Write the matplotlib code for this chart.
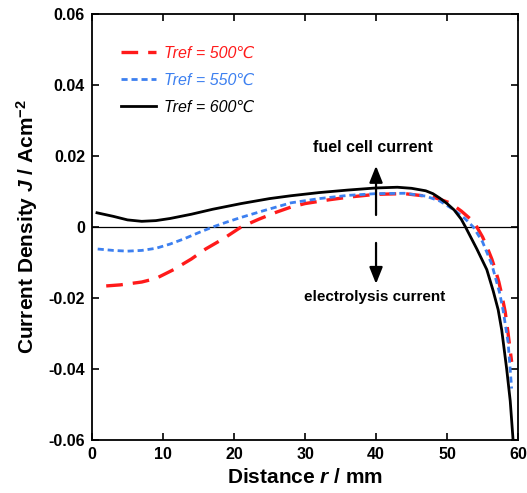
import matplotlib
matplotlib.use("Agg")
import matplotlib.pyplot as plt

plt.rcParams["font.family"] = ["Liberation Sans", "DejaVu Sans"]
plt.rcParams["mathtext.fontset"] = "custom"
plt.rcParams["mathtext.rm"] = "Liberation Sans:bold"
plt.rcParams["mathtext.it"] = "Liberation Sans:italic:bold"
plt.rcParams["mathtext.bf"] = "Liberation Sans:bold"

# Tref = 500 C
r_500 = [2, 4, 7, 9, 11.5, 14, 16, 18.5, 21, 23.5, 26, 28, 30, 33.5, 36.5, 40, 44,
         47.9, 49, 50.4, 52, 53.5, 54.2, 55, 55.6, 56.3, 56.8, 57.3, 57.7, 58.2,
         58.6, 59.1]
j_500 = [-0.0166, -0.0163, -0.0155, -0.0145, -0.012, -0.009, -0.0062, -0.0033, 0.0,
         0.0022, 0.0042, 0.0056, 0.0066, 0.0077, 0.0085, 0.0092, 0.0094, 0.0085,
         0.0078, 0.0068, 0.0045, 0.0019, 0.0, -0.0028, -0.0055, -0.009, -0.012,
         -0.0155, -0.019, -0.024, -0.030, -0.038]

# Tref = 550 C
r_550 = [0.8, 3, 5, 7, 9, 11, 13, 15, 17, 19, 21, 24, 28, 32, 36, 40, 44, 47, 49,
         51, 52.5, 53.7, 55, 56.3, 57.4, 57.9, 58.6, 59.1]
j_550 = [-0.0062, -0.0066, -0.0068, -0.0066, -0.006, -0.0048, -0.0033, -0.0016, 0.0,
         0.0014, 0.0027, 0.0045, 0.0068, 0.0080, 0.0089, 0.0094, 0.0095, 0.0087,
         0.0073, 0.0048, 0.0024, 0.0, -0.0042, -0.0105, -0.0185, -0.0235, -0.0325,
         -0.0455]

# Tref = 600 C
r_600 = [0.7, 3, 5, 7, 9, 11, 14, 17, 21, 25, 28, 32, 36, 40, 43, 45, 47, 48, 49,
         50, 51, 52, 52.6, 54.2, 55.6, 56.5, 57.2, 57.7, 58.4, 58.9, 59.3]
j_600 = [0.0040, 0.0030, 0.0020, 0.0016, 0.0018, 0.0024, 0.0036, 0.0050, 0.0066,
         0.0080, 0.0088, 0.0097, 0.0104, 0.0110, 0.0112, 0.0109, 0.0102, 0.0094,
         0.0081, 0.0066, 0.0048, 0.0022, 0.0, -0.0062, -0.012, -0.018, -0.0233,
         -0.029, -0.040, -0.049, -0.06]

labels = ["Tref = 500\u2103", "Tref = 550\u2103", "Tref = 600\u2103"]
x_ticks = [0, 10, 20, 30, 40, 50, 60]
y_ticks = [-0.06, -0.04, -0.02, 0, 0.02, 0.04, 0.06]
y_tick_labels = ["-0.06", "-0.04", "-0.02", "0", "0.02", "0.04", "0.06"]

fig = plt.figure(figsize=(5.27, 4.93), dpi=100)
ax = fig.add_axes([0.1746, 0.1075, 0.8084, 0.8641])

ax.axhline(0, color="black", lw=0.9)
ax.plot(r_500, j_500, color="#ff1a1a", lw=2.4, dashes=(5, 3), label=labels[0])
ax.plot(r_550, j_550, color="#3d80f0", lw=2.0, dashes=(2.2, 1.4), label=labels[1])
ax.plot(r_600, j_600, color="black", lw=2.0, label=labels[2])

ax.set_xlim(0, 60)
ax.set_ylim(-0.06, 0.06)
ax.set_xticks(x_ticks)
ax.set_yticks(y_ticks)
ax.set_yticklabels(y_tick_labels)
ax.tick_params(direction="in", top=True, right=True, length=5, width=1.2,
               labelsize=11.5, pad=5)
for lab in ax.get_xticklabels() + ax.get_yticklabels():
    lab.set_fontweight("bold")
for s in ax.spines.values():
    s.set_linewidth(1.3)

ax.set_xlabel("Distance $r$ / mm", fontsize=15, fontweight="bold", labelpad=4)
ax.set_ylabel("Current Density $J$ / Acm$^{-2}$", fontsize=15, fontweight="bold",
              labelpad=6)

leg = ax.legend(loc="upper left", bbox_to_anchor=(0.035, 0.96), frameon=False,
                handlelength=2.2, handletextpad=0.5, labelspacing=0.75,
                prop={"style": "italic", "size": 11.5}, labelcolor="linecolor")

# fuel cell / electrolysis arrows
ax.annotate("", xy=(40, 0.018), xytext=(40, 0.0026),
            arrowprops=dict(arrowstyle="-|>,head_width=0.4,head_length=1.0",
                            color="black", lw=1.6))
ax.annotate("", xy=(40, -0.0168), xytext=(40, -0.0037),
            arrowprops=dict(arrowstyle="-|>,head_width=0.4,head_length=1.0",
                            color="black", lw=1.6))
ax.text(39.6, 0.0224, "fuel cell current", ha="center", va="center",
        fontsize=11.5, fontweight="bold")
ax.text(39.8, -0.0196, "electrolysis current", ha="center", va="center",
        fontsize=11, fontweight="bold")

fig.savefig("out.png", dpi=100)
